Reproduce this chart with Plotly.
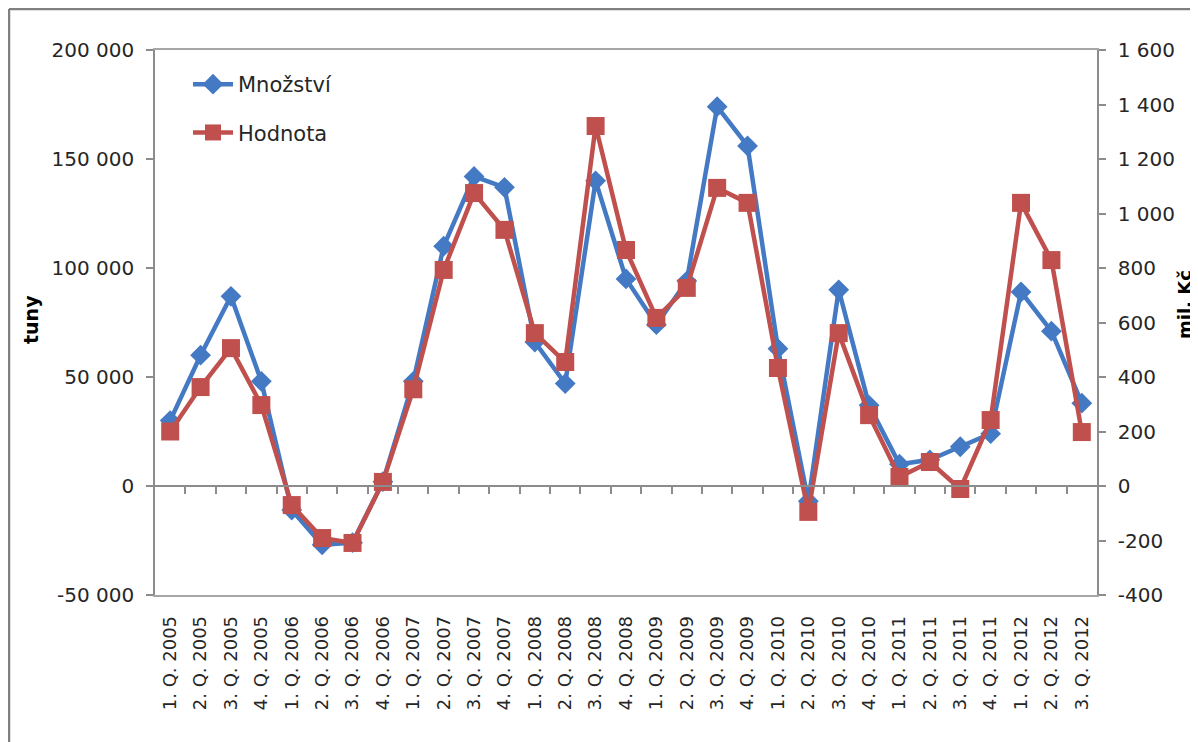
import plotly.graph_objects as go

quarters = [
    "1. Q. 2005", "2. Q. 2005", "3. Q. 2005", "4. Q. 2005",
    "1. Q. 2006", "2. Q. 2006", "3. Q. 2006", "4. Q. 2006",
    "1. Q. 2007", "2. Q. 2007", "3. Q. 2007", "4. Q. 2007",
    "1. Q. 2008", "2. Q. 2008", "3. Q. 2008", "4. Q. 2008",
    "1. Q. 2009", "2. Q. 2009", "3. Q. 2009", "4. Q. 2009",
    "1. Q. 2010", "2. Q. 2010", "3. Q. 2010", "4. Q. 2010",
    "1. Q. 2011", "2. Q. 2011", "3. Q. 2011", "4. Q. 2011",
    "1. Q. 2012", "2. Q. 2012", "3. Q. 2012",
]

mnozstvi = [30000, 60000, 87000, 48000, -11000, -27000, -26000, 2000,
            48000, 110000, 142000, 137000, 66000, 47000, 140000, 95000,
            74000, 94000, 174000, 156000, 63000, -7000, 90000, 37000,
            10000, 12000, 18000, 24000, 89000, 71000, 38000]

hodnota = [200, 363, 506, 297, -70, -191, -209, 15,
           355, 793, 1075, 940, 561, 455, 1321, 866,
           617, 727, 1094, 1039, 433, -95, 561, 260,
           33, 88, -11, 242, 1039, 829, 198]

left_ticks = [-50000, 0, 50000, 100000, 150000, 200000]
right_ticks = [-400, -200, 0, 200, 400, 600, 800, 1000, 1200, 1400, 1600]

def fmt(v):
    s = f"{abs(v):,}".replace(",", " ")
    return ("-" if v < 0 else "") + s

BLUE = "#4479C4"
RED = "#C0504D"
FONT = "DejaVu Sans"
TXT = "#262626"
AX = "#8C8C8C"

# page draws the figure offset by the 8px body margin
OFF = 8
W, H = 1190, 734
L, R, T, B = 155 - OFF, 101, 50 - OFF, 147
pw = W - L - R
ph = H - T - B

def px(x):  # x in reference-page pixels
    return (x - OFF - L) / pw

def py(y):
    return (H - B - (y - OFF)) / ph

idx = list(range(len(quarters)))

fig = go.Figure()
fig.add_trace(go.Scatter(
    x=idx, y=mnozstvi, name="Množství", mode="lines+markers",
    line=dict(color=BLUE, width=4.5),
    marker=dict(symbol="diamond", size=16, color=BLUE),
    legendgroup="a", yaxis="y", xaxis="x"))
fig.add_trace(go.Scatter(
    x=idx, y=hodnota, name="Hodnota", mode="lines+markers",
    line=dict(color=RED, width=4.5),
    marker=dict(symbol="square", size=18, color=RED),
    legendgroup="b", yaxis="y2", xaxis="x"))
# helper trace so the zero-line category axis is drawn
fig.add_trace(go.Scatter(x=[None], y=[None], xaxis="x2", yaxis="y",
                         showlegend=False, hoverinfo="skip"))

n = len(quarters)
boundaries = [i + 0.5 for i in range(n - 1)]
zero_pos = (0 - left_ticks[0]) / (left_ticks[-1] - left_ticks[0])

fig.update_layout(
    width=W, height=H,
    margin=dict(l=L, r=R, t=T, b=B, autoexpand=False),
    paper_bgcolor="white", plot_bgcolor="white",
    font=dict(family=FONT, color=TXT, size=20),
    showlegend=True,
    legend=dict(x=px(188), y=py(64), xanchor="left", yanchor="top",
                bgcolor="rgba(0,0,0,0)", font=dict(size=21, family=FONT, color=TXT),
                tracegroupgap=18, itemwidth=40),
    xaxis=dict(
        range=[-0.5, n - 0.5], tickmode="array", tickvals=idx, ticktext=quarters,
        tickangle=-90, tickfont=dict(size=18, family=FONT, color=TXT),
        showgrid=False, zeroline=False, showline=True, mirror=True,
        linecolor="#A6A6A6", linewidth=1.5, ticks="", ticklabelstandoff=12,
        automargin=False, fixedrange=True),
    xaxis2=dict(
        overlaying="x", anchor="free", position=zero_pos, side="bottom",
        range=[-0.5, n - 0.5], tickmode="array", tickvals=boundaries,
        showticklabels=False, ticks="outside", ticklen=7, tickwidth=1.5,
        tickcolor=AX, showline=True, linecolor=AX, linewidth=1.5,
        showgrid=False, zeroline=False, automargin=False),
    yaxis=dict(
        range=[left_ticks[0], left_ticks[-1]], tickmode="array",
        tickvals=left_ticks, ticktext=[fmt(v) for v in left_ticks],
        tickfont=dict(size=20, family=FONT, color=TXT),
        showgrid=False, zeroline=False, showline=True, linecolor=AX, linewidth=1.5,
        ticks="outside", ticklen=7, tickwidth=1.5, tickcolor=AX,
        ticklabelstandoff=8, automargin=False),
    yaxis2=dict(
        overlaying="y", side="right", anchor="x",
        range=[right_ticks[0], right_ticks[-1]], tickmode="array",
        tickvals=right_ticks, ticktext=[fmt(v) for v in right_ticks],
        tickfont=dict(size=20, family=FONT, color=TXT),
        showgrid=False, zeroline=False, showline=True, linecolor=AX, linewidth=1.5,
        ticks="outside", ticklen=7, tickwidth=1.5, tickcolor=AX,
        ticklabelstandoff=8, automargin=False),
    annotations=[
        dict(text="<b>tuny</b>", x=px(31), y=py(320), xref="paper", yref="paper",
             xanchor="center", yanchor="middle",
             textangle=-90, showarrow=False, font=dict(size=19, family=FONT, color="#000")),
        dict(text="<b>mil. Kč</b>", x=px(1184), y=py(305), xref="paper", yref="paper",
             xanchor="center", yanchor="middle",
             textangle=-90, showarrow=False, font=dict(size=18, family=FONT, color="#000")),
    ],
    shapes=[
        dict(type="line", xref="paper", yref="paper", x0=px(9), x1=px(9),
             y0=py(9), y1=py(760), line=dict(color="#808080", width=2.5)),
        dict(type="line", xref="paper", yref="paper", x0=px(9), x1=px(1200),
             y0=py(9), y1=py(9), line=dict(color="#808080", width=2.5)),
    ],
)

fig.write_html("out.html")
